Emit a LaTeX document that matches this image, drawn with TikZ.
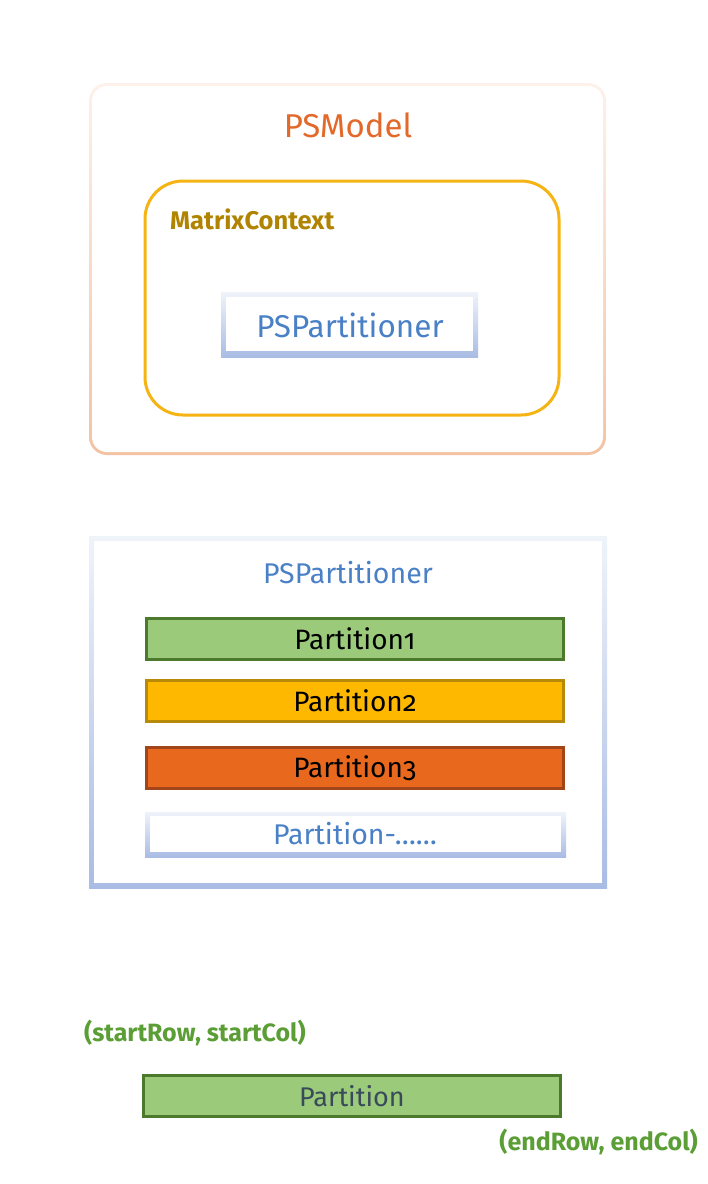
\documentclass[tikz,border=0pt]{standalone}
\usepackage{fontspec}
\setmainfont{Fira Sans}[Numbers=OldStyle]
\definecolor{psmTop}{HTML}{FDF1EA}
\definecolor{psmBot}{HTML}{F3C3A3}
\definecolor{psmText}{HTML}{E3692A}
\definecolor{mcYellow}{HTML}{F5B414}
\definecolor{mcText}{HTML}{B08400}
\definecolor{blTop}{HTML}{EFF3FA}
\definecolor{blBot}{HTML}{A9BCE4}
\definecolor{blText}{HTML}{4A80C6}
\definecolor{gFill}{HTML}{9BCB7A}
\definecolor{gLine}{HTML}{4B7A2C}
\definecolor{yFill}{HTML}{FFB800}
\definecolor{yLine}{HTML}{B88A0A}
\definecolor{oFill}{HTML}{E8691E}
\definecolor{oLine}{HTML}{A2461A}
\definecolor{pText}{HTML}{394A5A}
\definecolor{lblGreen}{HTML}{5B9E36}
\tikzset{
  partbox/.style={draw=#1, line width=3pt, minimum width=417pt, minimum height=41pt, inner sep=0pt, font=\fontsize{28}{32}\selectfont},
  bluetitle/.style={text=blText, inner sep=0pt},
  coordlbl/.style={text=lblGreen, font=\bfseries\fontsize{25}{30}\selectfont, inner sep=0pt}
}
\begin{document}
\begin{tikzpicture}[x=1pt,y=-1pt]
\useasboundingbox[fill=white] (0,0) rectangle (708,1184);
% PSModel box
\shade[top color=psmTop, bottom color=psmBot, rounded corners=18pt] (89,83) rectangle (606,455);
\fill[white, rounded corners=15pt] (92,86) rectangle (603,452);
\node[text=psmText, font=\fontsize{33}{38}\selectfont, inner sep=0pt] (psm) at (348,125) {PSModel};
% MatrixContext
\draw[mcYellow, line width=3pt, rounded corners=38pt] (145,181) rectangle (559,415);
\node[text=mcText, font=\bfseries\fontsize{25.5}{30}\selectfont, anchor=west, inner sep=0pt] (mc) at (170,219) {MatrixContext};
% inner PSPartitioner
\shade[top color=blTop, bottom color=blBot] (221,292) rectangle (478,357);
\fill[white] (226,297) rectangle (473,351);
\node[bluetitle, font=\fontsize{31.5}{36}\selectfont] (psp1) at (350,325) {PSPartitioner};
% big PSPartitioner
\shade[top color=blTop, bottom color=blBot] (89,536) rectangle (607,888);
\fill[white] (94,541) rectangle (602,883);
\node[bluetitle, font=\fontsize{28.5}{34}\selectfont] (psp2) at (348,573) {PSPartitioner};
\node[partbox=gLine, fill=gFill] (p1) at (355,639) {Partition1};
\node[partbox=yLine, fill=yFill] (p2) at (355,701) {Partition2};
\node[partbox=oLine, fill=oFill] (p3) at (355,768) {Partition3};
\shade[top color=blTop, bottom color=blBot] (145,812) rectangle (566,857);
\fill[white] (150,816) rectangle (561,852);
\node[text=blText, font=\fontsize{28.5}{32}\selectfont, inner sep=0pt] (pn) at (355,834) {Partition-\dots\dots};
% bottom partition
\node[partbox=gLine, fill=gFill, text=pText, font=\fontsize{27}{32}\selectfont] (pb) at (352,1096) {Partition};
\node[coordlbl, anchor=west] (start) at (84,1033) {(startRow, startCol)};
\node[coordlbl, anchor=east] (end) at (698,1142) {(endRow, endCol)};
\end{tikzpicture}
\end{document}
